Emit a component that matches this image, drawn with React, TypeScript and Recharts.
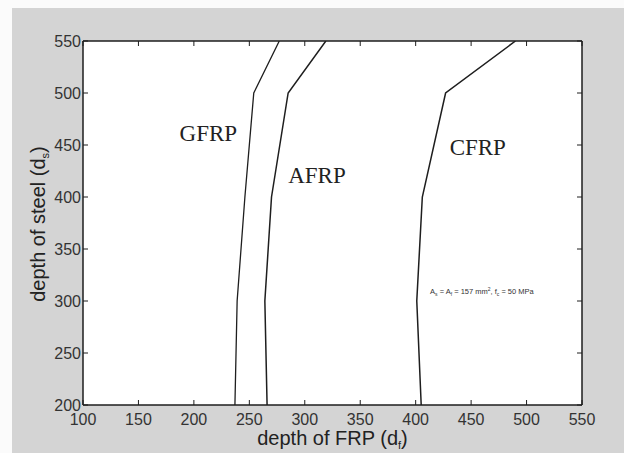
import React from "react"
import {
  CartesianGrid,
  Line,
  LineChart,
  ReferenceDot,
  XAxis,
  YAxis,
} from "recharts"

// depth of steel (d_s) at which each curve was read
const steelDepth = [200, 300, 400, 500, 550]
// depth of FRP (d_f) for each material
const gfrpDepth = [237, 239, 246, 254, 277]
const afrpDepth = [266, 264, 270, 285, 319]
const cfrpDepth = [405, 401, 406, 427, 490]

const xTicks = [100, 150, 200, 250, 300, 350, 400, 450, 500, 550]
const yTicks = [200, 250, 300, 350, 400, 450, 500, 550]

const curveLabels = [
  { name: "GFRP", x: 213, y: 462 },
  { name: "AFRP", x: 311, y: 421 },
  { name: "CFRP", x: 456, y: 448 },
]

const toSeries = (frp: number[]) =>
  steelDepth.map((s, i) => ({ x: frp[i], y: s }))

const gfrp = toSeries(gfrpDepth)
const afrp = toSeries(afrpDepth)
const cfrp = toSeries(cfrpDepth)

const INK = "#1e1e1e"
const TICK_FONT = "'Liberation Sans', Arial, sans-serif"
const SERIF = "'Liberation Serif', 'Times New Roman', serif"

const BottomTick = (p: any) => (
  <g>
    <line x1={p.x} x2={p.x} y1={p.y} y2={p.y - 5} stroke={INK} strokeWidth={1} />
    <text
      x={p.x}
      y={p.y + 20}
      textAnchor="middle"
      fontSize={16}
      fontFamily={TICK_FONT}
      fill="#333"
    >
      {p.payload.value}
    </text>
  </g>
)

const LeftTick = (p: any) => (
  <g>
    <line x1={p.x} x2={p.x + 5} y1={p.y} y2={p.y} stroke={INK} strokeWidth={1} />
    <text
      x={p.x - 2}
      y={p.y}
      dy="0.36em"
      textAnchor="end"
      fontSize={16}
      fontFamily={TICK_FONT}
      fill="#333"
    >
      {p.payload.value}
    </text>
  </g>
)

const TopTick = (p: any) => (
  <line x1={p.x} x2={p.x} y1={p.y} y2={p.y + 5} stroke={INK} strokeWidth={1} />
)

const RightTick = (p: any) => (
  <line x1={p.x} x2={p.x - 5} y1={p.y} y2={p.y} stroke={INK} strokeWidth={1} />
)

const XTitle = (props: any) => {
  const { x, width } = props.viewBox
  return (
    <text
      x={x + width / 2}
      y={445}
      textAnchor="middle"
      fontSize={20}
      fontFamily={TICK_FONT}
      fill="#222"
    >
      depth of FRP (d
      <tspan fontSize={11} dy={4}>
        f
      </tspan>
      <tspan dy={-4}>)</tspan>
    </text>
  )
}

const YTitle = () => (
  <text
    x={0}
    y={0}
    transform="translate(45 224) rotate(-90)"
    textAnchor="middle"
    fontSize={20}
    fontFamily={TICK_FONT}
    fill="#222"
  >
    depth of steel (d
    <tspan fontSize={11} dy={4}>
      s
    </tspan>
    <tspan dy={-4}>)</tspan>
  </text>
)

const CurveName = (props: any) => {
  const { viewBox, value } = props
  return (
    <text
      x={viewBox.x}
      y={viewBox.y}
      dy="0.35em"
      textAnchor="middle"
      fontSize={23}
      fontFamily={SERIF}
      fill="#222"
    >
      {value}
    </text>
  )
}

const Note = (props: any) => {
  const { viewBox } = props
  return (
    <text
      x={viewBox.x}
      y={viewBox.y}
      dy="0.35em"
      textAnchor="start"
      fontSize={7.5}
      fontFamily={TICK_FONT}
      fill="#333"
    >
      A<tspan fontSize={5} dy={2}>s</tspan>
      <tspan dy={-2}> = A</tspan>
      <tspan fontSize={5} dy={2}>f</tspan>
      <tspan dy={-2}> = 157 mm</tspan>
      <tspan fontSize={5} dy={-3}>2</tspan>
      <tspan dy={3}>, f</tspan>
      <tspan fontSize={5} dy={2}>c</tspan>
      <tspan dy={-2}> = 50 MPa</tspan>
    </text>
  )
}

export default function App() {
  return (
    <div
      style={{
        position: "absolute",
        left: 0,
        top: 0,
        width: 624,
        height: 453,
        background: "#fbfbfb",
        overflow: "hidden",
      }}
    >
      <div
        style={{
          position: "absolute",
          left: 12,
          top: 8,
          width: 612,
          height: 445,
          background: "#d4d4d4",
        }}
      />
      <div style={{ position: "absolute", left: 0, top: 0 }}>
        <LineChart
          width={624}
          height={453}
          margin={{ top: 40, right: 41, bottom: 0, left: 0 }}
        >
          <CartesianGrid
            fill="#ffffff"
            horizontal={false}
            vertical={false}
          />
          <XAxis
            type="number"
            dataKey="x"
            domain={[100, 550]}
            ticks={xTicks}
            allowDataOverflow
            height={48}
            tickSize={0}
            tickMargin={0}
            tickLine={false}
            axisLine={{ stroke: INK, strokeWidth: 1.5 }}
            tick={<BottomTick />}
            interval={0}
            label={<XTitle />}
          />
          <XAxis
            xAxisId="top"
            orientation="top"
            type="number"
            dataKey="x"
            domain={[100, 550]}
            ticks={xTicks}
            allowDataOverflow
            height={1}
            tickSize={0}
            tickMargin={0}
            tickLine={false}
            axisLine={{ stroke: INK, strokeWidth: 1.5 }}
            tick={<TopTick />}
            interval={0}
          />
          <YAxis
            type="number"
            domain={[200, 550]}
            ticks={yTicks}
            allowDataOverflow
            width={83}
            tickSize={0}
            tickMargin={0}
            tickLine={false}
            axisLine={{ stroke: INK, strokeWidth: 1.5 }}
            tick={<LeftTick />}
            interval={0}
            label={<YTitle />}
          />
          <YAxis
            yAxisId="right"
            orientation="right"
            type="number"
            domain={[200, 550]}
            ticks={yTicks}
            allowDataOverflow
            width={1}
            tickSize={0}
            tickMargin={0}
            tickLine={false}
            axisLine={{ stroke: INK, strokeWidth: 1.5 }}
            tick={<RightTick />}
            interval={0}
          />
          <Line
            data={gfrp}
            dataKey="y"
            type="linear"
            stroke={INK}
            strokeWidth={1.3}
            dot={false}
            isAnimationActive={false}
          />
          <Line
            data={afrp}
            dataKey="y"
            type="linear"
            stroke={INK}
            strokeWidth={1.5}
            dot={false}
            isAnimationActive={false}
          />
          <Line
            data={cfrp}
            dataKey="y"
            type="linear"
            stroke={INK}
            strokeWidth={1.5}
            dot={false}
            isAnimationActive={false}
          />
          {curveLabels.map((c) => (
            <ReferenceDot
              key={c.name}
              x={c.x}
              y={c.y}
              r={0}
              stroke="none"
              fill="none"
              label={<CurveName value={c.name} />}
            />
          ))}
          <ReferenceDot
            x={413}
            y={309}
            r={0}
            stroke="none"
            fill="none"
            label={<Note />}
          />
        </LineChart>
      </div>
    </div>
  )
}
